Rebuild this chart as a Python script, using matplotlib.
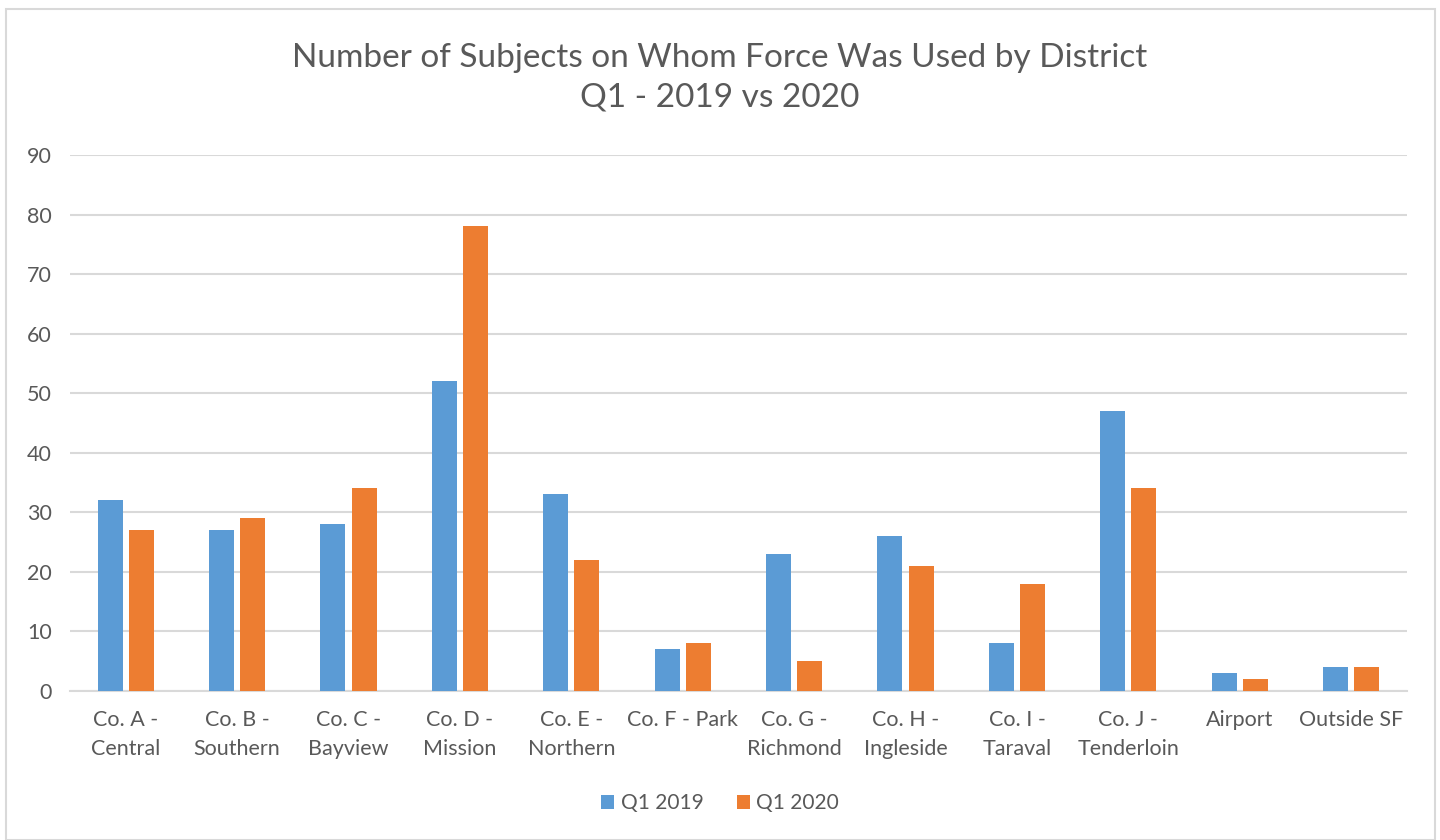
import matplotlib
matplotlib.use("Agg")
from matplotlib import pyplot as plt
from matplotlib.patches import Rectangle
import numpy as np

districts = ["Co. A -\nCentral", "Co. B -\nSouthern", "Co. C -\nBayview", "Co. D -\nMission",
             "Co. E -\nNorthern", "Co. F - Park", "Co. G -\nRichmond", "Co. H -\nIngleside",
             "Co. I -\nTaraval", "Co. J -\nTenderloin", "Airport", "Outside SF"]
q1_2019 = [32, 27, 28, 52, 33, 7, 23, 26, 8, 47, 3, 4]
q1_2020 = [27, 29, 34, 78, 22, 8, 5, 21, 18, 34, 2, 4]

plt.rcParams['font.family'] = ['Lato', 'DejaVu Sans']
text_color = "#595959"

fig = plt.figure(figsize=(14.4, 8.4), dpi=100)
ax = fig.add_axes([0.0486, 0.1774, 0.9284, 0.6381])

# rahmen um das ganze diagramm
fig.patches.append(Rectangle((0.0045, 0.0), 0.992, 0.989, transform=fig.transFigure,
                             fill=False, edgecolor="#D9D9D9", linewidth=1.5))

x = np.arange(len(districts))
w = 0.225
ax.bar(x - 0.14, q1_2019, w, color="#5B9BD5", label="Q1 2019", zorder=3)
ax.bar(x + 0.14, q1_2020, w, color="#ED7D31", label="Q1 2020", zorder=3)

ax.set_xlim(-0.5, len(districts) - 0.5)
ax.set_ylim(0, 90)
ax.set_yticks(range(0, 91, 10))
ax.set_xticks(x)
ax.set_xticklabels(districts, fontsize=15.5, color=text_color, linespacing=1.55)
ax.tick_params(axis='y', labelsize=15.5, labelcolor=text_color, length=0, pad=13)
ax.tick_params(axis='x', length=0, pad=14)
ax.grid(axis='y', color="#D9D9D9", linewidth=1.5, zorder=0)
for s in ["top", "right", "left"]:
    ax.spines[s].set_visible(False)
ax.spines["bottom"].set_color("#D9D9D9")
ax.spines["bottom"].set_linewidth(1.5)

fig.text(0.5, 0.907, "Number of Subjects on Whom Force Was Used by District\nQ1 - 2019 vs 2020",
         ha="center", va="center", fontsize=24, color=text_color, linespacing=1.4)

fig.legend(loc="center", bbox_to_anchor=(0.5, 0.044), ncol=2, frameon=False,
           fontsize=15, labelcolor=text_color, handlelength=0.65, handleheight=0.65,
           handletextpad=0.3, columnspacing=1.6)

plt.savefig("out.png", dpi=100)
